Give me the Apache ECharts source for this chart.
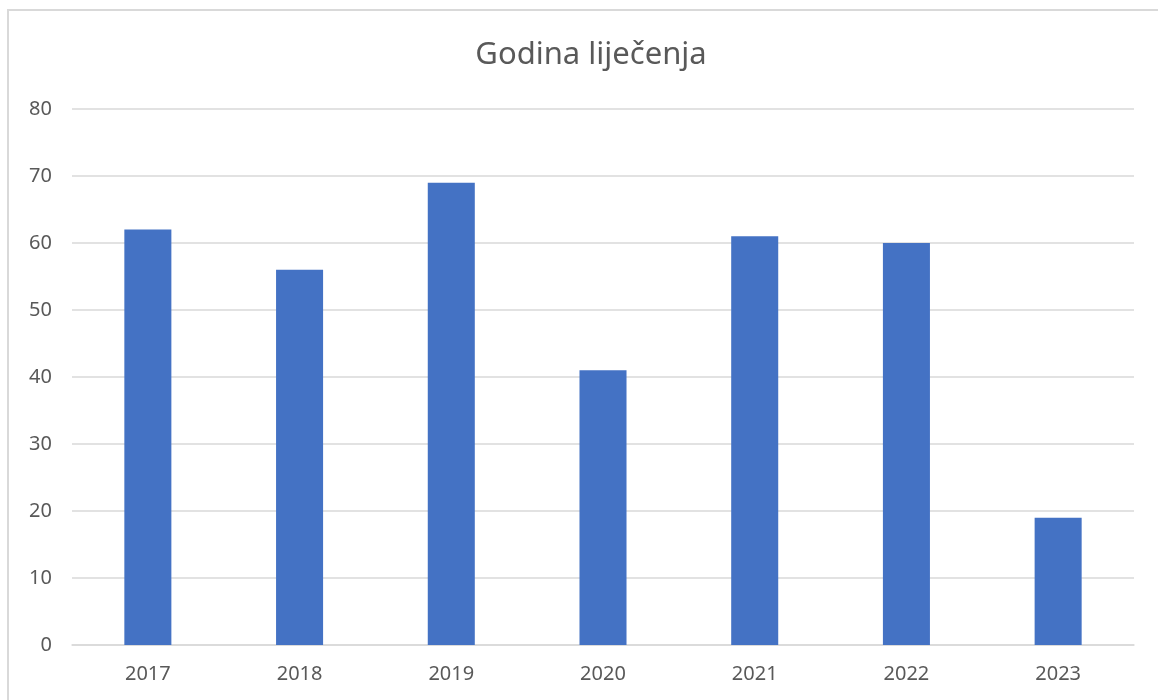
<!DOCTYPE html>
<html><head><meta charset="utf-8">
<script src="https://cdn.jsdelivr.net/npm/echarts@6/dist/echarts.min.js"></script>
<style>html,body{margin:0;padding:0;background:#fff}#c{width:1158px;height:700px}</style>
</head><body><div id="c"></div>
<script>
const categories = ['2017','2018','2019','2020','2021','2022','2023'];
const values = [62, 56, 69, 41, 61, 60, 19];
const titleText = 'Godina liječenja';
const chart = echarts.init(document.getElementById('c'));
const font = '"Noto Sans", "Open Sans", sans-serif';
chart.setOption({
  animation: false,
  backgroundColor: '#fff',
  graphic: [{type:'rect', shape:{x:8,y:10,width:1170,height:720}, style:{fill:'none', stroke:'#d9d9d9', lineWidth:2}, silent:true}],
  title: {text: titleText, left: 586, top: 35, textAlign: 'center',
    textStyle: {fontFamily: font, fontSize: 31, fontWeight: 'normal', color: '#595959'}},
  grid: {left: 72, right: 24, top: 109, bottom: 55, containLabel: false},
  xAxis: {type: 'category', data: categories,
    axisLine: {lineStyle: {color: '#d9d9d9', width: 1.5}}, axisTick: {show: false},
    axisLabel: {fontFamily: font, fontSize: 20, color: '#595959', margin: 19}},
  yAxis: {type: 'value', min: 0, max: 80, interval: 10,
    axisLine: {show: false}, axisTick: {show: false},
    splitLine: {lineStyle: {color: '#d9d9d9', width: 1.5}},
    axisLabel: {fontFamily: font, fontSize: 20, color: '#595959', margin: 20}},
  series: [{type: 'bar', data: values, barWidth: '31%', itemStyle: {color: '#4472c4'}}]
});
</script></body></html>
